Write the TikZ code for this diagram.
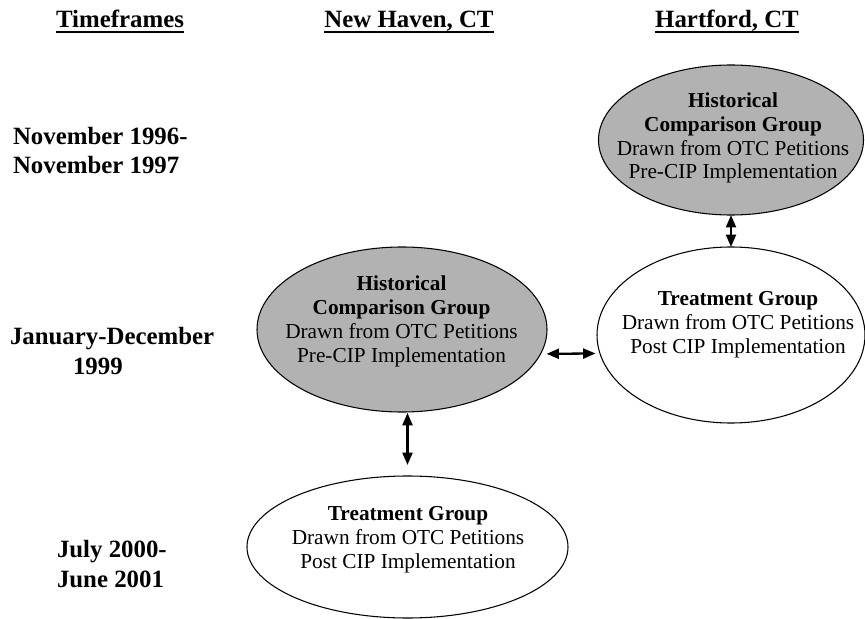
\documentclass[tikz,border=0pt]{standalone}
\usepackage{fontspec}
\setmainfont{Liberation Serif}
\usetikzlibrary{shapes.geometric,arrows.meta}
\definecolor{ellgray}{gray}{0.7}
\newcommand\pxu{0.5634pt}
\begin{document}
\begin{tikzpicture}[x=0.5634pt,y=-0.5634pt,
  every node/.style={inner sep=0pt, outer sep=0pt},
  oval/.style={ellipse, draw=black, line width=0.6pt},
  grayoval/.style={oval, fill=ellgray},
  whiteoval/.style={oval, fill=white},
  bodytext/.style={align=center, font=\fontsize{12}{13.5}\selectfont, anchor=base},
  tflabel/.style={align=left, font=\fontsize{14}{16.4}\selectfont\bfseries, anchor=base west},
  header/.style={font=\fontsize{14}{16.6}\selectfont\bfseries, anchor=base},
  uline/.style={line width=1.13pt},
  dbl/.style={{Triangle[length=7pt,width=5.6pt]}-{Triangle[length=7pt,width=5.6pt]}, line width=1.3pt}
]
\useasboundingbox (0,0) rectangle (865,619);

% column headers
\node[header] (h1) at (120,28) {Timeframes};
\node[header] (h2) at (409,28) {New Haven, CT};
\node[header] (h3) at (727,28) {Hartford, CT};
\foreach \h in {h1,h2,h3}{
  \draw[uline] ([yshift=-2.25pt]\h.base west) -- ([yshift=-2.25pt]\h.base east);
}

% timeframe labels (anchored at the baseline of their last line)
\node[tflabel] (tf1) at (13,174) {November 1996-\\November 1997};
\node[tflabel] (tf2) at (10,374) {January-December\\\hspace*{35.5pt}1999};
\node[tflabel] (tf3) at (57,587) {July 2000-\\June 2001};

% ellipses
\node[grayoval, minimum width=265*\pxu, minimum height=150*\pxu] (hh) at (731,140) {};
\node[whiteoval, minimum width=268*\pxu, minimum height=176*\pxu] (ht) at (731,335) {};
\node[grayoval, minimum width=290*\pxu, minimum height=165*\pxu] (nh) at (402,329.5) {};
\node[whiteoval, minimum width=321*\pxu, minimum height=142*\pxu] (nt) at (407.5,547) {};

% ellipse texts (anchored at the baseline of their last line)
\node[bodytext] (hht) at (733,179) {\textbf{Historical}\\\textbf{Comparison Group}\\Drawn from OTC Petitions\\Pre-CIP Implementation};
\node[bodytext] (htt) at (738,353) {\textbf{Treatment Group}\\Drawn from OTC Petitions\\Post CIP Implementation};
\node[bodytext] (nht) at (401.5,362) {\textbf{Historical}\\\textbf{Comparison Group}\\Drawn from OTC Petitions\\Pre-CIP Implementation};
\node[bodytext] (ntt) at (408,568) {\textbf{Treatment Group}\\Drawn from OTC Petitions\\Post CIP Implementation};

% connectors
\draw[dbl] (hh.south) -- (ht.north);
\draw[dbl, shorten <=3.4pt, shorten >=2.5pt] (nh.-10.3) -- (ht.188.7);
\draw[dbl, shorten <=0.5pt, shorten >=6.2pt] (nh.south -| nt.north) -- (nt.north);
\end{tikzpicture}
\end{document}
